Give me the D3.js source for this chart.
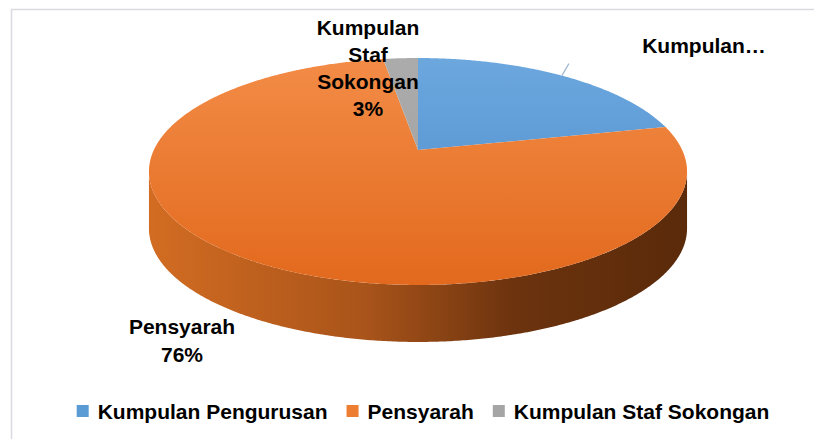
<!DOCTYPE html>
<html>
<head>
<meta charset="utf-8">
<script src="https://cdn.jsdelivr.net/npm/d3@7"></script>
<style>
  body { margin: 0; background: #fff; }
  svg { display: block; }
  text { font-family: "Liberation Sans", Arial, sans-serif; font-weight: bold; fill: #000; }
</style>
</head>
<body>
<svg id="chart" width="814" height="439"></svg>
<script>
// data
const categories = [`Kumpulan Pengurusan`, `Pensyarah`, `Kumpulan Staf Sokongan`];
const values = [21.5, 76, 2.5];
const colors = [`#5B9BD5`, `#ED7D31`, `#A5A5A5`];
const topLight = [`#6CA7DE`, `#F38C47`, `#ABABAB`];
const topDark = [`#4A8BCB`, `#E2691D`, `#A0A0A0`];

const svg = d3.select(`#chart`);
const defs = svg.append(`defs`);

// frame
svg.append(`rect`)
  .attr(`x`, 11.5).attr(`y`, 9.5)
  .attr(`width`, 900).attr(`height`, 500)
  .attr(`fill`, `none`)
  .attr(`stroke`, `#DADBE0`)
  .attr(`stroke-width`, 1.5);

// 3d projection of the pie disk
const cx = 418, cy = 150, sideH = 57;
const s = 0.41, c = Math.sqrt(1 - s * s), D = 4.815, f = 1272;

const proj = (a, drop = 0) => {
  const u = Math.sin(a) * 1.0, v = -Math.cos(a);
  const depth = D - v * c;
  return [cx + f * u / depth, cy + f * v * s * 1.01 / depth + drop];
};

const sample = (a0, a1, drop) => {
  const n = Math.max(2, Math.ceil((a1 - a0) / 0.008));
  return d3.range(n + 1).map(i => proj(a0 + (a1 - a0) * i / n, drop));
};

// angles where the rim is widest left/right (side wall visible between)
const probe = d3.range(0, 2 * Math.PI, 0.002);
const aRight = d3.greatest(probe, a => proj(a)[0]);
const aLeft = d3.least(probe, a => proj(a)[0]);

const pie = d3.pie().sort(null).startAngle(0).endAngle(2 * Math.PI);
const arcs = pie(values);
const line = d3.line();

// gradients
arcs.forEach((d, i) => {
  const g = defs.append(`linearGradient`)
    .attr(`id`, `top${i}`)
    .attr(`gradientUnits`, `userSpaceOnUse`)
    .attr(`x1`, 0).attr(`y1`, 58).attr(`x2`, 0).attr(`y2`, 285);
  g.append(`stop`).attr(`offset`, `0%`).attr(`stop-color`, topLight[i]);
  g.append(`stop`).attr(`offset`, `100%`).attr(`stop-color`, topDark[i]);
});

const sideGrad = defs.append(`linearGradient`)
  .attr(`id`, `side`)
  .attr(`gradientUnits`, `userSpaceOnUse`)
  .attr(`x1`, 150).attr(`y1`, 0).attr(`x2`, 686).attr(`y2`, 0);
[[`0%`, `#D26C22`], [`40%`, `#A9541A`], [`68%`, `#6C330E`], [`100%`, `#5A2A0A`]]
  .forEach(([o, col]) => sideGrad.append(`stop`).attr(`offset`, o).attr(`stop-color`, col));

// side walls
arcs.forEach(d => {
  const a0 = Math.max(d.startAngle, aRight);
  const a1 = Math.min(d.endAngle, aLeft);
  if (a1 <= a0) return;
  const pts = sample(a0, a1, 0).concat(sample(a0, a1, sideH).reverse());
  svg.append(`path`)
    .attr(`d`, line(pts) + `Z`)
    .attr(`fill`, `url(#side)`);
});

// top faces
arcs.forEach((d, i) => {
  const pts = [[cx, cy]].concat(sample(d.startAngle, d.endAngle, 0));
  svg.append(`path`)
    .attr(`d`, line(pts) + `Z`)
    .attr(`fill`, `url(#top${i})`);
});

// data labels
const pct = d => `${Math.round(d.value / d3.sum(values) * 100)}%`;

// Kumpulan Pengurusan : truncated label with leader
const blue = arcs[0];
const p0 = proj((blue.startAngle + blue.endAngle) / 2);
svg.append(`line`)
  .attr(`x1`, p0[0]).attr(`y1`, p0[1])
  .attr(`x2`, p0[0] + 7).attr(`y2`, p0[1] - 12)
  .attr(`stroke`, `#9FB6CF`)
  .attr(`stroke-width`, 1.2);
svg.append(`text`)
  .attr(`x`, 704).attr(`y`, 53)
  .attr(`text-anchor`, `middle`)
  .attr(`font-size`, 21)
  .text(`Kumpulan…`);

// Kumpulan Staf Sokongan
const grayLines = [`Kumpulan`, `Staf`, `Sokongan`, pct(arcs[2])];
svg.append(`text`)
  .attr(`text-anchor`, `middle`)
  .attr(`font-size`, 21)
  .selectAll(`tspan`)
  .data(grayLines)
  .join(`tspan`)
  .attr(`x`, 368)
  .attr(`y`, (t, i) => 35 + i * 27)
  .text(t => t);

// Pensyarah
svg.append(`text`)
  .attr(`text-anchor`, `middle`)
  .attr(`font-size`, 21)
  .selectAll(`tspan`)
  .data([categories[1], pct(arcs[1])])
  .join(`tspan`)
  .attr(`x`, 182)
  .attr(`y`, (t, i) => 334 + i * 28)
  .text(t => t);

// legend
const legend = svg.append(`g`);
let lx = 0;
categories.forEach((name, i) => {
  const item = legend.append(`g`).attr(`transform`, `translate(${lx},0)`);
  item.append(`rect`)
    .attr(`x`, 0).attr(`y`, 405)
    .attr(`width`, 12).attr(`height`, 12)
    .attr(`fill`, colors[i]);
  const t = item.append(`text`)
    .attr(`x`, 21).attr(`y`, 419)
    .attr(`font-size`, 21)
    .text(name);
  lx += 21 + t.node().getComputedTextLength() + 19;
});
const legendW = lx - 19;
legend.attr(`transform`, `translate(${423 - legendW / 2},0)`);
</script>
</body>
</html>
